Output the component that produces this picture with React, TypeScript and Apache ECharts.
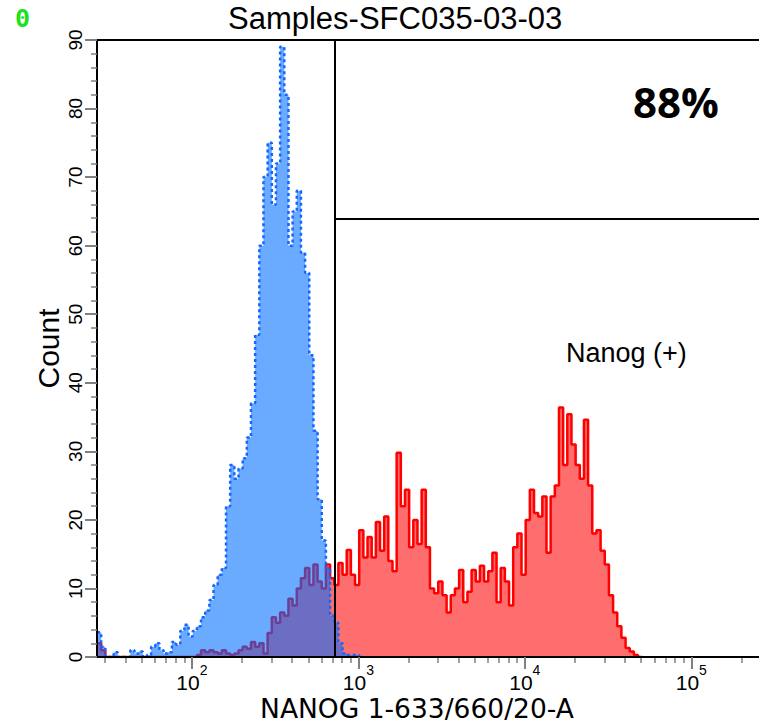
import React, { useEffect, useRef } from "react";
import * as echarts from "echarts";

const TITLE = "Samples-SFC035-03-03";
const X_NAME = "NANOG 1-633/660/20-A";
const Y_NAME = "Count";
const GATE_LABEL = "Nanog (+)";
const GATE_PERCENT = "88%";
const CORNER_LABEL = "0";

// x axis works in log10 of fluorescence intensity
const X_MIN_LOG = 1.43;
const X_MAX_LOG = 5.4185;
const xMajorDecades = [2, 3, 4, 5];
const xMinorMultipliers = [2, 3, 4, 5, 6, 7, 8, 9];
const Y_MIN = 0;
const Y_MAX = 90;
const Y_INTERVAL = 10;

// histogram channels (log10 start of first channel, channel width)
const BIN_START_LOG = 1.43;
const BIN_WIDTH_LOG = 0.025;

// gate
const gateThresholdLog = 2.859;
const gateCountLevel = 63.9;

// isotype / negative control (blue)
const blueCounts = [
  3.6, 1.5, 0, 0, 0.7, 0, 0, 0, 1, 0.5,
  0.8, 0, 0.3, 1.5, 2, 1, 0.5, 0.7, 2.2, 1.8,
  3.8, 4.7, 3, 3.8, 4.5, 5.8, 6.8, 8.3, 10.5, 12,
  13, 22, 28, 26, 27.5, 29, 32, 37, 47, 60,
  70, 75, 66, 72, 89, 82, 60, 65, 68, 59,
  56, 44, 33, 23, 17, 13, 6, 5, 2, 0.5,
  0.3, 0.3, 0.3, 0,
];

// NANOG stained sample (red)
const redCounts = [
  2, 1, 0, 0, 0, 0, 0, 0, 0, 0,
  0, 0, 0, 0, 0, 0, 0, 0, 0, 0,
  0, 0, 0, 0, 0.3, 1, 0.7, 1, 0.7, 0.5,
  1, 0.5, 0.3, 0.5, 1, 1.5, 1.2, 2.2, 1.5, 2,
  0.5, 3.5, 5.8, 5, 6.5, 6, 8.5, 7.5, 10, 11.5,
  13, 10.5, 13.5, 11, 10, 13.5, 11.5, 10.5, 13.7, 12,
  15.6, 12, 10.5, 18.5, 14.5, 17.5, 14.5, 19.7, 15.5, 20.5,
  14, 12.5, 29.8, 22, 24.4, 16, 20, 16.5, 24.4, 16,
  10, 9.3, 11, 9, 6.5, 9, 10, 12.7, 8, 9.5,
  12.7, 11, 13.3, 11, 12.5, 15.2, 8, 13, 11, 7.5,
  16, 18, 12, 20, 24.4, 21, 20.5, 23.4, 15.2, 23.4,
  25, 36.4, 28, 35.4, 31, 28, 26, 34.6, 25, 18,
  18.5, 15.5, 13.5, 9, 6.5, 4.5, 2.8, 1.3, 0.8, 0.3,
  0,
];

function toSteps(counts: number[]): number[][] {
  const pts = counts.map((c, i) => [BIN_START_LOG + i * BIN_WIDTH_LOG, c]);
  pts.push([BIN_START_LOG + counts.length * BIN_WIDTH_LOG, 0]);
  return pts;
}

const minorTickValues: number[] = [];
for (let d = 1; d <= 5; d++) {
  for (const m of xMinorMultipliers) {
    const v = Math.log10(m * Math.pow(10, d));
    if (v >= X_MIN_LOG && v <= X_MAX_LOG) minorTickValues.push(v);
  }
}

const FONT = "Liberation Sans, Arial, sans-serif";
const WIDE_FONT = "DejaVu Sans, Liberation Sans, sans-serif";

export default function App() {
  const ref = useRef<HTMLDivElement>(null);
  useEffect(() => {
    if (!ref.current) return;
    const chart = echarts.init(ref.current, null, { renderer: "svg" });
    const option: any = {
      animation: false,
      backgroundColor: "#ffffff",
      title: {
        text: TITLE,
        left: 228,
        top: 3,
        padding: 0,
        textStyle: { fontFamily: FONT, fontSize: 31, fontWeight: "normal", color: "#000" },
      },
      grid: {
        left: 97,
        right: -2,
        top: 40,
        bottom: 69,
        containLabel: false,
        outerBoundsMode: "none",
      },
      xAxis: [
        {
          type: "value",
          min: X_MIN_LOG,
          max: X_MAX_LOG,
          position: "bottom",
          z: 10,
          name: X_NAME,
          nameLocation: "middle",
          nameGap: 38,
          nameMoveOverlap: false,
          nameTextStyle: {
            fontFamily: WIDE_FONT,
            fontSize: 26.5,
            color: "#000",
            padding: [0, 24, 0, 0],
          },
          axisLine: { show: true, onZero: false, lineStyle: { color: "#000", width: 2 } },
          axisTick: {
            show: true,
            customValues: xMajorDecades,
            length: 12,
            lineStyle: { color: "#808080", width: 2 },
          },
          axisLabel: {
            show: true,
            customValues: xMajorDecades,
            margin: 6,
            formatter: (v: number) => `{b|10}{s|${Math.round(v)}}`,
            rich: {
              b: { fontFamily: FONT, fontSize: 21, lineHeight: 30, verticalAlign: "bottom", color: "#000" },
              s: { fontFamily: FONT, fontSize: 14, lineHeight: 14, verticalAlign: "top", color: "#000" },
            },
          },
          splitLine: { show: false },
        },
        {
          type: "value",
          min: X_MIN_LOG,
          max: X_MAX_LOG,
          position: "bottom",
          z: 9,
          axisLine: { show: false, onZero: false },
          axisTick: {
            show: true,
            customValues: minorTickValues,
            length: 6,
            lineStyle: { color: "#808080", width: 1.5 },
          },
          axisLabel: { show: false },
          splitLine: { show: false },
        },
        {
          type: "value",
          min: X_MIN_LOG,
          max: X_MAX_LOG,
          position: "top",
          z: 10,
          axisLine: { show: true, onZero: false, lineStyle: { color: "#000", width: 2 } },
          axisTick: { show: false },
          axisLabel: { show: false },
          splitLine: { show: false },
        },
      ],
      yAxis: {
        type: "value",
        min: Y_MIN,
        max: Y_MAX,
        interval: Y_INTERVAL,
        z: 10,
        name: Y_NAME,
        nameLocation: "middle",
        nameGap: 34,
        nameMoveOverlap: false,
        nameTextStyle: { fontFamily: FONT, fontSize: 30, color: "#000" },
        axisLine: { show: true, onZero: false, lineStyle: { color: "#000", width: 2 } },
        axisTick: { show: true, length: 12, lineStyle: { color: "#808080", width: 2 } },
        minorTick: { show: true, splitNumber: 5, length: 6, lineStyle: { color: "#808080", width: 1.5 } },
        axisLabel: { rotate: 90, margin: 12, fontFamily: FONT, fontSize: 19, color: "#000" },
        splitLine: { show: false },
      },
      series: [
        {
          name: "NANOG",
          type: "line",
          step: "end",
          symbol: "none",
          showSymbol: false,
          xAxisIndex: 0,
          data: toSteps(redCounts),
          lineStyle: { color: "#ff0000", width: 2.5 },
          areaStyle: { color: "rgba(255,0,0,0.57)", opacity: 1 },
          z: 2,
        },
        {
          name: "Control",
          type: "line",
          step: "end",
          symbol: "none",
          showSymbol: false,
          xAxisIndex: 0,
          data: toSteps(blueCounts),
          lineStyle: { color: "#1466ff", width: 2.5, type: [3, 3] },
          areaStyle: { color: "rgba(0,110,255,0.58)", opacity: 1 },
          z: 3,
        },
        {
          name: "Gate",
          type: "line",
          xAxisIndex: 0,
          data: [],
          z: 5,
          markLine: {
            silent: true,
            symbol: ["none", "none"],
            label: { show: false },
            lineStyle: { color: "#000", width: 2, type: "solid" },
            data: [
              [{ coord: [gateThresholdLog, Y_MIN] }, { coord: [gateThresholdLog, Y_MAX] }],
              [{ coord: [gateThresholdLog, gateCountLevel] }, { coord: [X_MAX_LOG, gateCountLevel] }],
            ],
          },
        },
      ],
      graphic: [
        {
          type: "text",
          left: 566,
          top: 339,
          style: { text: GATE_LABEL, fontFamily: FONT, fontSize: 27, fill: "#000" },
        },
        {
          type: "text",
          left: 633,
          top: 80,
          style: { text: GATE_PERCENT, fontFamily: "Open Sans, Liberation Sans, sans-serif", fontSize: 42, fontWeight: "bold", fill: "#000" },
        },
        {
          type: "text",
          left: 15,
          top: 6,
          style: { text: CORNER_LABEL, fontFamily: "DejaVu Sans Mono, monospace", fontSize: 25, fontWeight: "bold", fill: "#1ee01e" },
        },
      ],
    };
    chart.setOption(option);
    return () => chart.dispose();
  }, []);
  return (
    <div
      ref={ref}
      style={{ position: "absolute", left: 0, top: 0, width: 759, height: 726 }}
    />
  );
}
